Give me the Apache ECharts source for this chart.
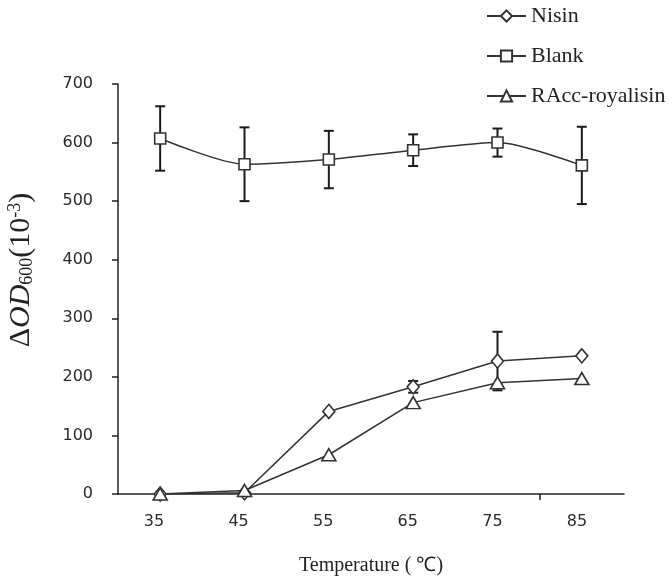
<!DOCTYPE html>
<html><head><meta charset="utf-8">
<script src="https://cdn.jsdelivr.net/npm/echarts@6/dist/echarts.min.js"></script>
<style>html,body{margin:0;padding:0;background:#fff}#c{width:672px;height:584px}</style>
</head><body><div id="c"></div>
<script>
// ---- data ----
const temps = [35, 45, 55, 65, 75, 85];
const xTickLabels = [35, 45, 55, 65, 75, 85];
const nisin = [0, 2, 141, 183, 227, 236];
const nisinErr = [0, 0, 0, 10, 50, 0];
const blank = [607, 563, 571, 587, 600, 561];
const blankErr = [55, 63, 49, 27, 24, 66];
const racc = [0, 6, 67, 156, 190, 197];
const raccErr = [0, 0, 0, 0, 0, 0];
const seriesNames = ['Nisin', 'Blank', 'RAcc-royalisin'];

const chart = echarts.init(document.getElementById('c'), null, {renderer: 'canvas'});
const SERIF = '"Liberation Serif","Times New Roman",serif';
const SANS = '"DejaVu Sans",Verdana,sans-serif';

function errSeries(vals, errs) {
  const data = [];
  temps.forEach((t, i) => { if (errs[i] > 0) data.push([t, vals[i] - errs[i], vals[i] + errs[i]]); });
  return {
    type: 'custom', xAxisIndex: 0, yAxisIndex: 0, z: 1, silent: true,
    data: data,
    renderItem: function (params, api) {
      const lo = api.coord([api.value(0), api.value(1)]);
      const hi = api.coord([api.value(0), api.value(2)]);
      const w = 5;
      const st = {stroke: '#1a1a1a', lineWidth: 2};
      return {type: 'group', children: [
        {type: 'line', shape: {x1: lo[0], y1: lo[1], x2: hi[0], y2: hi[1]}, style: st},
        {type: 'line', shape: {x1: lo[0] - w, y1: lo[1], x2: lo[0] + w, y2: lo[1]}, style: st},
        {type: 'line', shape: {x1: hi[0] - w, y1: hi[1], x2: hi[0] + w, y2: hi[1]}, style: st}
      ]};
    }
  };
}

function lineSeries(name, vals, symbol, size, smooth) {
  return {
    name: name, type: 'line', xAxisIndex: 0, yAxisIndex: 0, z: 3,
    data: temps.map((t, i) => [t, vals[i]]),
    smooth: smooth,
    symbol: symbol, symbolSize: size, showAllSymbol: true,
    lineStyle: {color: '#333', width: 1.5},
    itemStyle: {color: '#fff', borderColor: '#333', borderWidth: 1.6},
    emphasis: {disabled: true}
  };
}

chart.setOption({
  animation: false,
  backgroundColor: '#fff',
  grid: {left: 118, top: 84, right: 48, bottom: 90, containLabel: false},
  legend: {
    orient: 'vertical', left: 486, top: 5, padding: 0, itemWidth: 39, itemHeight: 14, itemGap: 18,
    data: seriesNames,
    textStyle: {fontFamily: SERIF, fontSize: 22, color: '#222', lineHeight: 22}
  },
  xAxis: [{
    type: 'value', min: 30, max: 90, position: 'bottom',
    axisLine: {show: true, lineStyle: {color: '#222', width: 1.5}},
    axisTick: {show: true, customValues: [80], length: 6, lineStyle: {color: '#222', width: 1.5}},
    axisLabel: {show: false},
    splitLine: {show: false}
  }, {
    type: 'value', min: 30.745, max: 90.556, position: 'bottom',
    axisLine: {show: false}, axisTick: {show: false}, splitLine: {show: false},
    axisLabel: {show: true, customValues: xTickLabels, margin: 20,
      fontFamily: SANS, fontSize: 16, color: '#2a2a2a'},
    name: 'Temperature ( \u2103)', nameLocation: 'middle', nameGap: 62,
    nameTextStyle: {fontFamily: SERIF, fontSize: 20, color: '#222'}
  }],
  yAxis: {
    type: 'value', min: 0, max: 700, interval: 100,
    axisLine: {show: true, lineStyle: {color: '#222', width: 1.5}},
    axisTick: {show: true, inside: false, length: 6, lineStyle: {color: '#222', width: 1.5}},
    axisLabel: {margin: 25, fontFamily: SANS, fontSize: 16, color: '#2a2a2a'},
    splitLine: {show: false}
  },
  graphic: [{
    type: 'text', x: 21, y: 270, rotation: Math.PI / 2, silent: true,
    style: {
      text: '{a|\u0394}{b|OD}{s|600}{a|(10}{p|-3}{a|)}',
      textAlign: 'center', textVerticalAlign: 'middle',
      rich: {
        a: {fontFamily: SERIF, fontSize: 30, fill: '#222'},
        b: {fontFamily: SERIF, fontSize: 30, fontStyle: 'italic', fill: '#222'},
        s: {fontFamily: SERIF, fontSize: 18, fill: '#222', verticalAlign: 'bottom', padding: [12, 0, 0, 0]},
        p: {fontFamily: SERIF, fontSize: 18, fill: '#222', verticalAlign: 'top', padding: [0, 0, 12, 0]}
      }
    }
  }],
  series: [
    errSeries(nisin, nisinErr),
    errSeries(blank, blankErr),
    errSeries(racc, raccErr),
    lineSeries('Nisin', nisin, 'diamond', [12, 14], false),
    lineSeries('Blank', blank, 'rect', 11, 0.25),
    lineSeries('RAcc-royalisin', racc, 'triangle', [14, 12], false)
  ]
});
</script>
</body></html>
